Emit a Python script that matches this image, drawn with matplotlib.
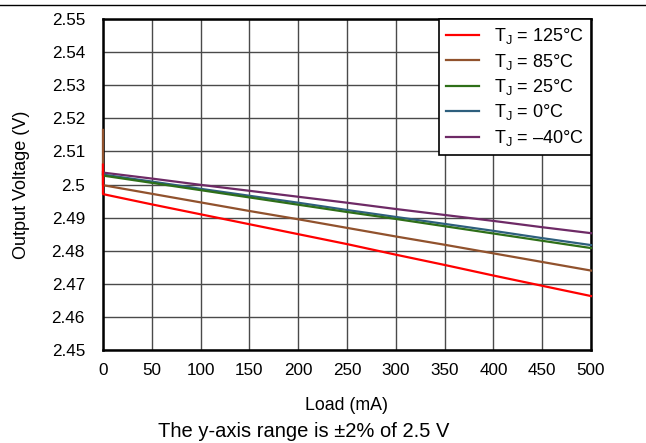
import matplotlib
matplotlib.use("Agg")
import matplotlib.pyplot as plt
from matplotlib.lines import Line2D

plt.rcParams['font.family'] = ['Liberation Sans', 'DejaVu Sans']
plt.rcParams['mathtext.fontset'] = 'custom'
plt.rcParams['mathtext.rm'] = 'Liberation Sans'
plt.rcParams['mathtext.it'] = 'Liberation Sans'

# load in mA (0 listed twice for the start-up spike)
load = [0, 0, 50, 100, 150, 200, 250, 300, 350, 400, 450, 500]

v_125 = [2.5060, 2.4971, 2.4940, 2.4910, 2.4880, 2.4850, 2.4820, 2.4788, 2.4757, 2.4725, 2.4694, 2.4663]
v_85 = [2.5165, 2.4998, 2.4972, 2.4946, 2.4920, 2.4895, 2.4869, 2.4843, 2.4818, 2.4792, 2.4766, 2.4740]
v_25 = [2.5030, 2.5027, 2.5005, 2.4983, 2.4961, 2.4939, 2.4917, 2.4896, 2.4874, 2.4852, 2.4830, 2.4808]
v_0 = [2.5032, 2.5030, 2.5009, 2.4987, 2.4966, 2.4945, 2.4923, 2.4902, 2.4881, 2.4860, 2.4838, 2.4817]
v_m40 = [2.5038, 2.5036, 2.5018, 2.4999, 2.4981, 2.4963, 2.4945, 2.4926, 2.4908, 2.4890, 2.4871, 2.4853]

labels = [r'T$_\mathregular{J}$ = 125°C', r'T$_\mathregular{J}$ = 85°C', r'T$_\mathregular{J}$ = 25°C',
          r'T$_\mathregular{J}$ = 0°C', r'T$_\mathregular{J}$ = –40°C']
colors = ['#ff0000', '#91522d', '#2e6f18', '#2e5f7d', '#6e2a66']

fig = plt.figure(figsize=(6.46, 4.43), dpi=100)
ax = fig.add_axes([0.1594, 0.2099, 0.7555, 0.7472])

series = [v_125, v_85, v_25, v_0, v_m40]
order = [4, 3, 2, 1, 0]  # draw red last so it sits on top
lines = {}
for i in order:
    lines[i], = ax.plot(load, series[i], color=colors[i], lw=1.6, label=labels[i],
                        zorder=3 + (4 - i), clip_on=False)

ax.set_xlim(0, 500)
ax.set_ylim(2.45, 2.55)
ax.set_xticks(range(0, 501, 50))
ax.set_yticks([2.45 + 0.01 * k for k in range(11)])
ax.set_yticklabels(['2.45', '2.46', '2.47', '2.48', '2.49', '2.5', '2.51', '2.52', '2.53', '2.54', '2.55'])
ax.tick_params(length=0, labelsize=12.3)
ax.tick_params(axis='y', pad=13)
ax.tick_params(axis='x', pad=9)
ax.grid(True, color='#4a4a4a', lw=1.0)
for s in ax.spines.values():
    s.set_linewidth(1.8)
    s.set_color('black')

ax.set_xlabel('Load (mA)', fontsize=12.8)
ax.set_ylabel('Output Voltage (V)', fontsize=13)
ax.xaxis.set_label_coords(0.5, -0.143)
ax.yaxis.set_label_coords(-0.150, 0.5)

leg = ax.legend([lines[i] for i in range(5)], labels, loc='upper right', fontsize=13,
                frameon=True, fancybox=False, borderaxespad=0, handlelength=1.85,
                labelspacing=0.3, edgecolor='black', framealpha=1, borderpad=0.4)
leg.get_frame().set_linewidth(1.2)
leg.set_zorder(10)

fig.text(0.47, 0.026, 'The y-axis range is ±2% of 2.5 V', fontsize=14.5, ha='center', va='center')
fig.add_artist(Line2D([0, 1], [0.989, 0.989], color='black', lw=1.0, transform=fig.transFigure))

fig.savefig('out.png', dpi=100)
